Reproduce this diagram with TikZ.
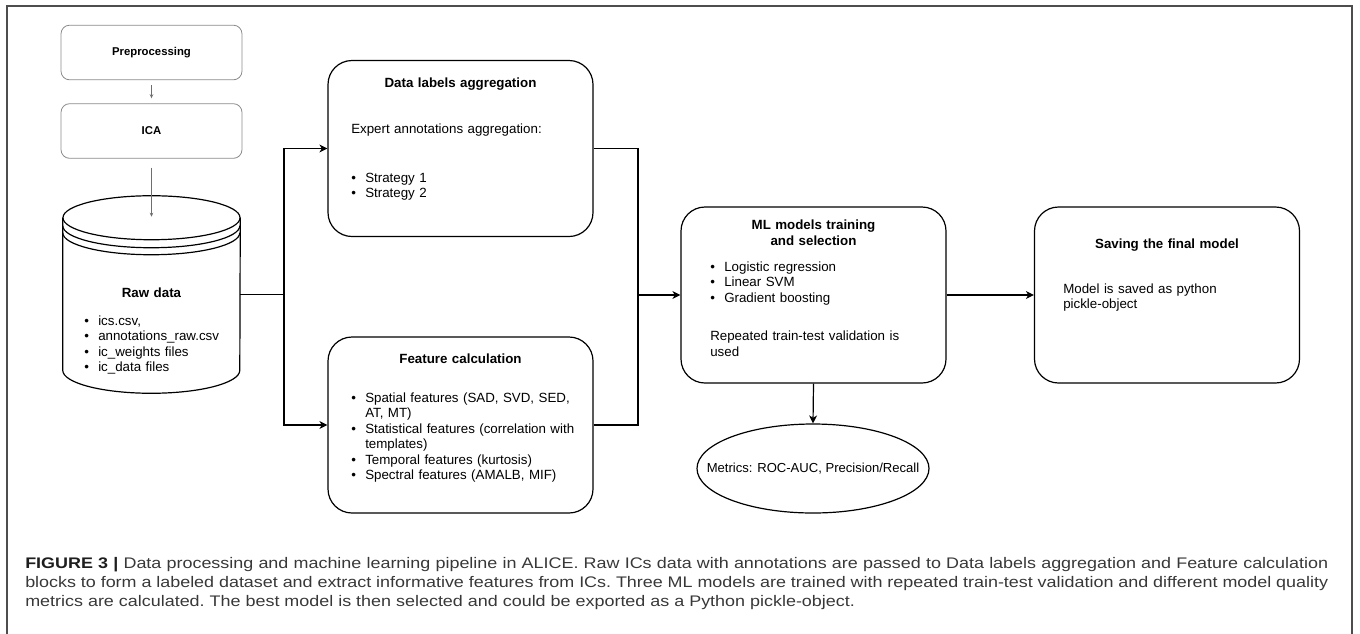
\documentclass[tikz,border=0pt]{standalone}
\usepackage{fontspec}
\setmainfont{Liberation Sans}
\newfontfamily\capfont[FakeStretch=1.17]{Liberation Sans}
\usepackage{tikz}
\usetikzlibrary{arrows.meta,positioning,shapes.geometric,calc}
\definecolor{framegray}{HTML}{4D4D4D}
\definecolor{thingray}{HTML}{6E6E6E}
\definecolor{stagegray}{HTML}{8A8A8A}
\definecolor{capgray}{HTML}{383838}
\definecolor{capdark}{HTML}{1E1E1E}
\newcommand{\bitem}{\makebox[10.5pt][l]{\textbullet}}
\newcommand{\bskip}{\hspace*{10.5pt}}
\tikzset{
  block/.style={draw,line width=0.9pt,rounded corners=18pt,minimum width=198.75pt,minimum height=132pt,inner sep=0pt},
  stagebox/.style={draw=stagegray,line width=0.6pt,rounded corners=6.5pt,minimum width=135.75pt,minimum height=41pt,font=\fontsize{8.5}{10}\selectfont\bfseries},
  blocktitle/.style={font=\fontsize{10}{12}\selectfont\bfseries,anchor=base,inner sep=0pt,text width=190pt,align=center},
  blocktext/.style={font=\fontsize{10}{11.6}\selectfont,anchor=base west,inner sep=0pt,text width=#1,align=left},
  wire/.style={line width=0.9pt},
  flowarrow/.style={wire,-{Stealth[length=6pt,width=6pt,inset=1.8pt]}},
  thinflow/.style={line width=0.45pt,draw=thingray,-{Stealth[length=3pt,width=2.6pt]}}
}
\begin{document}
\begin{tikzpicture}[x=0.75pt,y=-0.75pt]
\useasboundingbox (0,0) rectangle (1360,633);
\draw[framegray,line width=1pt] (7,650) -- (7,6) -- (1352,6) -- (1352,650);

\node[stagebox] (prep) at (151.5,52.5) {Preprocessing};
\node[stagebox] (ica) at (151.5,131) {ICA};

\node[minimum width=132.75pt,minimum height=147.75pt,inner sep=0pt] (raw) at (151.5,294.5) {};
\coordinate (rawtop) at ($(raw.north)+(0,21)$);
\draw[wire] ($(raw.north west)+(0,22)$) -- ($(raw.south west)+(0,-23)$) arc[start angle=180,end angle=360,x radius=66.4pt,y radius=17.25pt] -- ($(raw.north east)+(0,22)$);
\draw[wire] ($(raw.north)+(0,22)$) ellipse[x radius=66.4pt,y radius=16.5pt];
\foreach \dy in {8,15}
  \draw[wire] ($(raw.north west)+(0,22+\dy)$) arc[start angle=180,end angle=360,x radius=66.4pt,y radius=16.5pt];
\node[blocktitle] (rawtitle) at (151.5,297.5) {Raw data};
\node[blocktext=140pt] (rawtext) at (84,325.5) {\bitem ics.csv,\\\bitem annotations\_raw.csv\\\bitem ic\_weights files\\\bitem ic\_data files};

\node[block] (labels) at (460.5,148.5) {};
\node[blocktitle] (labelstitle) at (460.5,87.5) {Data labels aggregation};
\node[blocktext=180pt] (labelstext) at (351,133.5) {Expert annotations aggregation:\\[25pt]\bitem Strategy 1\\\bitem Strategy 2};

\node[block] (feature) at (460.5,425) {};
\node[blocktitle] (featuretitle) at (460.5,363.5) {Feature calculation};
\node[blocktext=195pt] (featuretext) at (351,402.5) {\bitem Spatial features (SAD, SVD, SED,\\\bskip AT, MT)\\\bitem Statistical features (correlation with\\\bskip templates)\\\bitem Temporal features (kurtosis)\\\bitem Spectral features (AMALB, MIF)};

\node[block] (ml) at (813.5,295) {};
\node[blocktitle] (mltitle) at (813.5,229.5) {ML models training\\and selection};
\node[blocktext=190pt] (mltext) at (710,271.5) {\bitem Logistic regression\\\bitem Linear SVM\\\bitem Gradient boosting\\[17pt]Repeated train-test validation is\\used};

\node[block] (save) at (1167,295) {};
\node[blocktitle] (savetitle) at (1167,248.5) {Saving the final model};
\node[blocktext=190pt] (savetext) at (1063,293.5) {Model is saved as python\\pickle-object};

\node[draw,ellipse,line width=0.9pt,minimum width=174pt,minimum height=66.75pt,inner sep=0pt,font=\fontsize{9.8}{12}\selectfont] (metrics) at (813,468.5) {\makebox[0pt]{Metrics: ROC-AUC, Precision/Recall}};

\coordinate (split) at (284,294.5);
\coordinate (merge) at (638,295);

\draw[thinflow,shorten <=3.75pt,shorten >=3.75pt] (prep) -- (ica);
\draw[thinflow,shorten <=6.75pt] (ica) -- (rawtop);
\draw[wire] (raw.east) -- (split);
\draw[flowarrow] (split) |- (labels.west);
\draw[flowarrow] (split) |- (feature.west);
\draw[wire] (labels.east) -| (merge);
\draw[wire] (feature.east) -| (merge);
\draw[flowarrow] (merge) -- (ml.west);
\draw[flowarrow] (ml.east) -- (save.west);
\draw[flowarrow] (ml.south) -- (metrics.north);

\node[anchor=base west,inner sep=0pt,text width=977.25pt,align=justify,text=capgray,font=\capfont\fontsize{11.5}{14.6}\selectfont\frenchspacing] (caption) at (25,568) {\textcolor{capdark}{\textbf{FIGURE 3 |}} Data processing and machine learning pipeline in ALICE. Raw ICs data with annotations are passed to Data labels aggregation and Feature calculation\linebreak blocks to form a labeled dataset and extract informative features from ICs. Three ML models are trained with repeated train-test validation and different model quality\linebreak metrics are calculated. The best model is then selected and could be exported as a Python pickle-object.};
\end{tikzpicture}
\end{document}
